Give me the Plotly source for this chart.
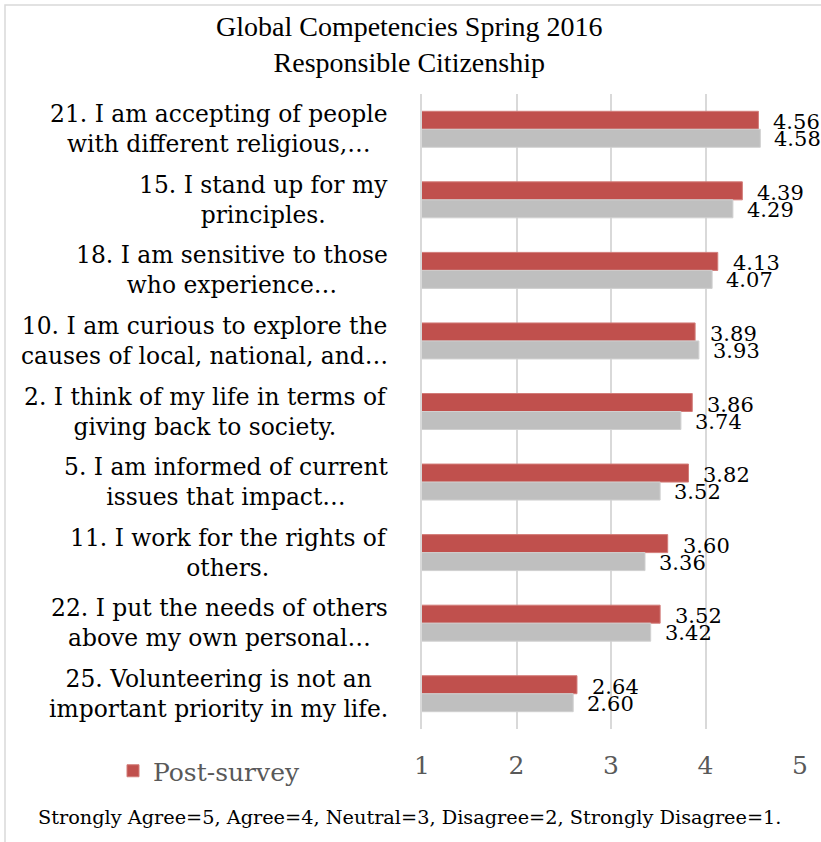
import plotly.graph_objects as go

categories = [
    "21. I am accepting of people<br>with different religious,…",
    "15. I stand up for my<br>principles.",
    "18. I am sensitive to those<br>who experience…",
    "10. I am curious to explore the<br>causes of local, national, and…",
    "2. I think of my life in terms of<br>giving back to society.",
    "5. I am informed of current<br>issues that impact…",
    "11. I work for the rights of<br>others.",
    "22. I put the needs of others<br>above my own personal…",
    "25. Volunteering is not an<br>important priority in my life.",
]
post_survey = [4.56, 4.39, 4.13, 3.89, 3.86, 3.82, 3.60, 3.52, 2.64]
pre_survey = [4.58, 4.29, 4.07, 3.93, 3.74, 3.52, 3.36, 3.42, 2.60]
x_ticks = [1, 2, 3, 4, 5]
title_text = "Global Competencies Spring 2016<br>Responsible Citizenship"
footer_text = "Strongly Agree=5, Agree=4, Neutral=3, Disagree=2, Strongly Disagree=1."

RED = "#C0504D"
GRAY = "#BFBFBF"
SERIF = "DejaVu Serif"

plot_l, plot_r, plot_t, plot_b = 422, 800, 94, 729
def px_to_paper_x(px):
    return (px - plot_l) / (plot_r - plot_l)
def px_to_paper_y(py):
    return (plot_b - py) / (plot_b - plot_t)

fig = go.Figure()
fig.add_trace(go.Bar(
    y=categories, x=post_survey, orientation="h", name="Post-survey",
    marker=dict(color=RED, line=dict(color="#D27C79", width=1)),
))
fig.add_trace(go.Bar(
    y=categories, x=pre_survey, orientation="h", name="Pre-survey",
    marker=dict(color=GRAY, line=dict(color="#D0D0D0", width=1)),
    showlegend=False,
))

annotations = []
for cat, v in zip(categories, post_survey):
    annotations.append(dict(x=v, y=cat, xref="x", yref="y", text=f"{v:.2f}",
                            showarrow=False, xanchor="left", xshift=13, yshift=7,
                            font=dict(family=SERIF, size=21, color="#000000")))
for cat, v in zip(categories, pre_survey):
    annotations.append(dict(x=v, y=cat, xref="x", yref="y", text=f"{v:.2f}",
                            showarrow=False, xanchor="left", xshift=12, yshift=-10,
                            font=dict(family=SERIF, size=21, color="#000000")))
for cat in categories:
    annotations.append(dict(x=0, y=cat, xref="paper", yref="y", text=cat,
                            showarrow=False, xanchor="right", xshift=-32, align="center",
                            font=dict(family=SERIF, size=23.4, color="#000000")))
annotations.append(dict(
    x=px_to_paper_x(409), y=px_to_paper_y(45), xref="paper", yref="paper",
    xanchor="center", yanchor="middle", align="center", showarrow=False,
    text=title_text, font=dict(family="Liberation Serif", size=28, color="#000000"),
))
annotations.append(dict(
    x=px_to_paper_x(409), y=px_to_paper_y(817), xref="paper", yref="paper",
    xanchor="center", yanchor="middle", showarrow=False,
    text=footer_text, font=dict(family=SERIF, size=19.3, color="#000000"),
))

fig.update_layout(
    width=821, height=842,
    margin=dict(l=plot_l, r=821 - plot_r, t=plot_t, b=842 - plot_b),
    paper_bgcolor="white", plot_bgcolor="white",
    barmode="group", bargap=0.49, bargroupgap=0,
    xaxis=dict(
        range=[1, 5], tickvals=x_ticks, showgrid=True, gridcolor="#D9D9D9", gridwidth=1.5,
        zeroline=False, showline=False, ticks="", ticklabelstandoff=19,
        tickfont=dict(family=SERIF, size=25, color="#595959"),
    ),
    yaxis=dict(
        type="category", categoryorder="array", categoryarray=categories,
        autorange="reversed", showticklabels=False, showgrid=False, zeroline=False,
        showline=True, linecolor="#D9D9D9", linewidth=1.5,
    ),
    showlegend=True,
    legend=dict(
        orientation="h", x=px_to_paper_x(113), y=px_to_paper_y(748),
        xanchor="left", yanchor="top",
        font=dict(family=SERIF, size=25, color="#595959"),
        bgcolor="rgba(0,0,0,0)",
    ),
    annotations=annotations,
    shapes=[dict(type="rect", xref="paper", yref="paper",
                 x0=px_to_paper_x(5), x1=px_to_paper_x(830),
                 y0=px_to_paper_y(850), y1=px_to_paper_y(5),
                 line=dict(color="#D9D9D9", width=1.5), fillcolor="rgba(0,0,0,0)", layer="below")],
)

fig.write_html("out.html")
